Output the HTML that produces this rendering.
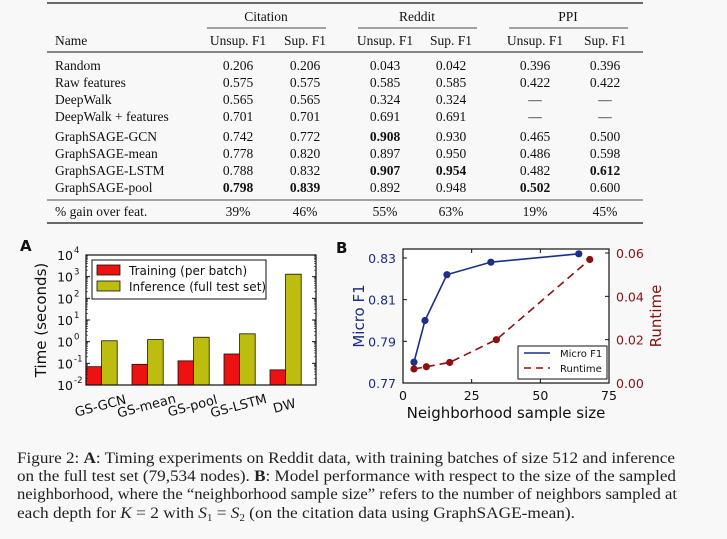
<!DOCTYPE html>
<html><head><meta charset="utf-8">
<style>
body{margin:0;background:#f8f8f8;}
#wrap{position:relative;width:727px;height:539px;overflow:hidden;background:#f8f8f8;}
svg{position:absolute;left:0;top:0;}
.serif{font-family:"Liberation Serif",serif;}
.sans{font-family:"DejaVu Sans","Liberation Sans",sans-serif;}
</style></head>
<body>
<div id="wrap">
<svg id="tbl" width="727" height="230" class="serif" font-size="13.5" fill="#111">
<line x1="47" y1="3" x2="643" y2="3" stroke="#111" stroke-width="1.3"/>
<line x1="207" y1="28" x2="326" y2="28" stroke="#111" stroke-width="0.8"/>
<line x1="358" y1="28" x2="477" y2="28" stroke="#111" stroke-width="0.8"/>
<line x1="509" y1="28" x2="628" y2="28" stroke="#111" stroke-width="0.8"/>
<line x1="47" y1="52" x2="643" y2="52" stroke="#111" stroke-width="1"/>
<line x1="47" y1="200" x2="643" y2="200" stroke="#111" stroke-width="0.8"/>
<line x1="47" y1="223" x2="643" y2="223" stroke="#111" stroke-width="1.3"/>
</svg>
<svg id="chartA" width="727" height="539" class="sans"></svg>
<svg id="caption" width="727" height="539" class="serif" font-size="16" fill="#222">
<text x="17" y="463" textLength="658" lengthAdjust="spacingAndGlyphs">Figure 2: <tspan font-weight="bold">A</tspan>: Timing experiments on Reddit data, with training batches of size 512 and inference</text>
<text x="17" y="481" textLength="659" lengthAdjust="spacingAndGlyphs">on the full test set (79,534 nodes). <tspan font-weight="bold">B</tspan>: Model performance with respect to the size of the sampled</text>
<text x="17" y="499" textLength="660" lengthAdjust="spacingAndGlyphs">neighborhood, where the “neighborhood sample size” refers to the number of neighbors sampled at</text>
<text x="17" y="518" textLength="558" lengthAdjust="spacingAndGlyphs">each depth for <tspan font-style="italic">K</tspan> = 2 with <tspan font-style="italic">S</tspan><tspan font-size="10" dy="3">1</tspan><tspan dy="-3"> = </tspan><tspan font-style="italic">S</tspan><tspan font-size="10" dy="3">2</tspan><tspan dy="-3"> (on the citation data using GraphSAGE-mean).</tspan></text>
</svg>
</div>
<script>
const NS='http://www.w3.org/2000/svg';
function mk(parent,tag,attrs,text){const e=document.createElementNS(NS,tag);for(const k in attrs)e.setAttribute(k,attrs[k]);if(text!==undefined)e.textContent=text;parent.appendChild(e);return e;}

// ---------- Table ----------
const tableRows=[
 ['Random','0.206','0.206','0.043','0.042','0.396','0.396'],
 ['Raw features','0.575','0.575','0.585','0.585','0.422','0.422'],
 ['DeepWalk','0.565','0.565','0.324','0.324','—','—'],
 ['DeepWalk + features','0.701','0.701','0.691','0.691','—','—'],
 ['GraphSAGE-GCN','0.742','0.772','0.908','0.930','0.465','0.500'],
 ['GraphSAGE-mean','0.778','0.820','0.897','0.950','0.486','0.598'],
 ['GraphSAGE-LSTM','0.788','0.832','0.907','0.954','0.482','0.612'],
 ['GraphSAGE-pool','0.798','0.839','0.892','0.948','0.502','0.600'],
 ['% gain over feat.','39%','46%','55%','63%','19%','45%']];
const boldCells=[[4,3],[6,3],[6,4],[6,6],[7,1],[7,2],[7,5]];
const rowY=[65,82,99,116,136,153,170,187,211];
const colX=[238,305,385,451,535,605];
const tbl=document.getElementById('tbl');
let t;
t=mk(tbl,'text',{x:266,y:21,'text-anchor':'middle'},'Citation');

t=mk(tbl,'text',{x:417,y:21,'text-anchor':'middle'},'Reddit');

t=mk(tbl,'text',{x:568,y:21,'text-anchor':'middle'},'PPI');

t=mk(tbl,'text',{x:55,y:45},'Name');

['Unsup. F1','Sup. F1','Unsup. F1','Sup. F1','Unsup. F1','Sup. F1'].forEach((h,i)=>{
 const e=mk(tbl,'text',{x:colX[i],y:45,'text-anchor':'middle'},h);
 
 
});
tableRows.forEach((r,ri)=>{
 r.forEach((c,ci)=>{
  const bold=boldCells.some(b=>b[0]===ri&&b[1]===ci);
  const e=mk(tbl,'text',{x:ci===0?55:colX[ci-1],y:rowY[ri]+5,'text-anchor':ci===0?'start':'middle','font-weight':bold?'bold':'normal'},c);
  
  
 });
});

// ---------- Chart A ----------
const aCategories=['GS-GCN','GS-mean','GS-pool','GS-LSTM','DW'];
const aTraining=[0.07,0.09,0.13,0.27,0.05];
const aInference=[1.1,1.25,1.6,2.3,1300];
const aTickExps=[-2,-1,0,1,2,3,4];
const svg=document.getElementById('chartA');
const AX0=86,AX1=316,AY0=385,AY1=255;
const ay=v=>AY0-(Math.log10(v)+2)/6*(AY0-AY1);
const groupW=46,barW=15.6;
const gA=mk(svg,'g',{});

mk(gA,'rect',{x:AX0,y:AY1,width:AX1-AX0,height:AY0-AY1,fill:'#fff'});
aCategories.forEach((c,i)=>{
 const x0=AX0+i*groupW;
 const r1=mk(gA,'rect',{x:x0,y:ay(aTraining[i]),width:barW,height:AY0-ay(aTraining[i]),fill:'#ee1111',stroke:'#111','stroke-width':0.8});
 
 
 const r2=mk(gA,'rect',{x:x0+barW,y:ay(aInference[i]),width:barW,height:AY0-ay(aInference[i]),fill:'#bdbd10',stroke:'#111','stroke-width':0.8});
 
 
 const cx=x0+barW;
 const lb=mk(gA,'text',{x:0,y:0,'text-anchor':'middle','font-size':13,fill:'#111',transform:`translate(${cx},${410}) rotate(-15)`},c);
 
 
});
mk(gA,'rect',{x:AX0,y:AY1,width:AX1-AX0,height:AY0-AY1,fill:'none',stroke:'#111','stroke-width':1.2});
aTickExps.forEach(e=>{
 const y=ay(Math.pow(10,e));
 mk(gA,'line',{x1:AX0,y1:y,x2:AX0+4,y2:y,stroke:'#111'});
 mk(gA,'line',{x1:AX1,y1:y,x2:AX1-4,y2:y,stroke:'#111'});
 if(e<4){for(let m=2;m<10;m++){const yy=ay(m*Math.pow(10,e));mk(gA,'line',{x1:AX0,y1:yy,x2:AX0+2,y2:yy,stroke:'#111','stroke-width':0.6});mk(gA,'line',{x1:AX1,y1:yy,x2:AX1-2,y2:yy,stroke:'#111','stroke-width':0.6});}}
 const tx=mk(gA,'text',{x:73,y:y+5,'text-anchor':'end','font-size':12.5,fill:'#111'},'10');
 
 
 mk(gA,'text',{x:74,y:y-2,'font-size':8.5,fill:'#111'},String(e));
});
t=mk(gA,'text',{x:0,y:0,'text-anchor':'middle','font-size':15,fill:'#111',transform:'translate(46,320) rotate(-90)'},'Time (seconds)');

t=mk(gA,'text',{x:20,y:251,'font-size':15,'font-weight':'bold',fill:'#111'},'A');

const legA=mk(gA,'g',{});

mk(legA,'rect',{x:92,y:260,width:174,height:39,fill:'#fff',stroke:'#111','stroke-width':1});
mk(legA,'rect',{x:97,y:265,width:23,height:10,fill:'#ee1111',stroke:'#111','stroke-width':0.8});
mk(legA,'text',{x:129,y:275,'font-size':12,fill:'#111'},'Training (per batch)');
mk(legA,'rect',{x:97,y:281,width:23,height:10,fill:'#bdbd10',stroke:'#111','stroke-width':0.8});
mk(legA,'text',{x:129,y:291,'font-size':12,fill:'#111'},'Inference (full test set)');

// ---------- Chart B ----------
const bF1X=[4,8,16,32,64];
const bF1=[0.780,0.800,0.822,0.828,0.832];
const bRunX=[4,8.5,17,34,68];
const bRun=[0.0065,0.0075,0.0095,0.020,0.057];
const bXTicks=[0,25,50,75];
const bLeftTicks=[0.77,0.79,0.81,0.83];
const bRightTicks=[0.00,0.02,0.04,0.06];
const BX0=403,BX1=609,BY0=383,BY1=249;
const bx=v=>BX0+v/75*(BX1-BX0);
const byL=v=>BY0-(v-0.77)/0.06*(383-258);
const byR=v=>BY0-v/0.06*(383-253);
const blue='#1a2e8a',red='#8b1010';
const gB=mk(svg,'g',{});

mk(gB,'rect',{x:BX0,y:BY1,width:BX1-BX0,height:BY0-BY1,fill:'#fff',stroke:'#111','stroke-width':1.2});
bXTicks.forEach(v=>{
 mk(gB,'line',{x1:bx(v),y1:BY0,x2:bx(v),y2:BY0-4,stroke:'#111'});
 mk(gB,'line',{x1:bx(v),y1:BY1,x2:bx(v),y2:BY1+4,stroke:'#111'});
 const e=mk(gB,'text',{x:bx(v),y:400,'text-anchor':'middle','font-size':12.5,fill:'#111'},String(v));
 
 
});
bLeftTicks.forEach(v=>{
 mk(gB,'line',{x1:BX0,y1:byL(v),x2:BX0+4,y2:byL(v),stroke:'#111'});
 const e=mk(gB,'text',{x:396,y:byL(v)+5,'text-anchor':'end','font-size':12.5,fill:blue},v.toFixed(2));
 
 
});
bRightTicks.forEach(v=>{
 mk(gB,'line',{x1:BX1,y1:byR(v),x2:BX1-4,y2:byR(v),stroke:'#111'});
 const e=mk(gB,'text',{x:616,y:byR(v)+5,'font-size':12.5,fill:red},v.toFixed(2));
 
 
});
const f1Line=mk(gB,'polyline',{points:bF1X.map((x,i)=>bx(x)+','+byL(bF1[i])).join(' '),fill:'none',stroke:blue,'stroke-width':1.6});


const rtLine=mk(gB,'polyline',{points:bRunX.map((x,i)=>bx(x)+','+byR(bRun[i])).join(' '),fill:'none',stroke:red,'stroke-width':1.6,'stroke-dasharray':'8,5'});


bF1X.forEach((x,i)=>{
 const c=mk(gB,'circle',{cx:bx(x),cy:byL(bF1[i]),r:3.6,fill:blue});
 
 
});
bRunX.forEach((x,i)=>{
 const c=mk(gB,'circle',{cx:bx(x),cy:byR(bRun[i]),r:3.6,fill:red});
 
 
});
t=mk(gB,'text',{x:506,y:418,'text-anchor':'middle','font-size':15,fill:'#111'},'Neighborhood sample size');

t=mk(gB,'text',{x:0,y:0,'text-anchor':'middle','font-size':15,fill:blue,transform:'translate(364,316) rotate(-90)'},'Micro F1');

t=mk(gB,'text',{x:0,y:0,'text-anchor':'middle','font-size':15,fill:red,transform:'translate(661,316) rotate(-90)'},'Runtime');

t=mk(gB,'text',{x:336,y:253,'font-size':15,'font-weight':'bold',fill:'#111'},'B');

const legB=mk(gB,'g',{});

mk(legB,'rect',{x:518,y:346,width:89,height:33,fill:'#fff',stroke:'#111','stroke-width':1});
mk(legB,'line',{x1:524,y1:353,x2:550,y2:353,stroke:blue,'stroke-width':1.6});
mk(legB,'text',{x:560,y:357,'font-size':10,fill:'#111'},'Micro F1');
mk(legB,'line',{x1:524,y1:368,x2:550,y2:368,stroke:red,'stroke-width':1.6,'stroke-dasharray':'7,5'});
mk(legB,'text',{x:560,y:372,'font-size':10,fill:'#111'},'Runtime');
</script>
</body></html>
